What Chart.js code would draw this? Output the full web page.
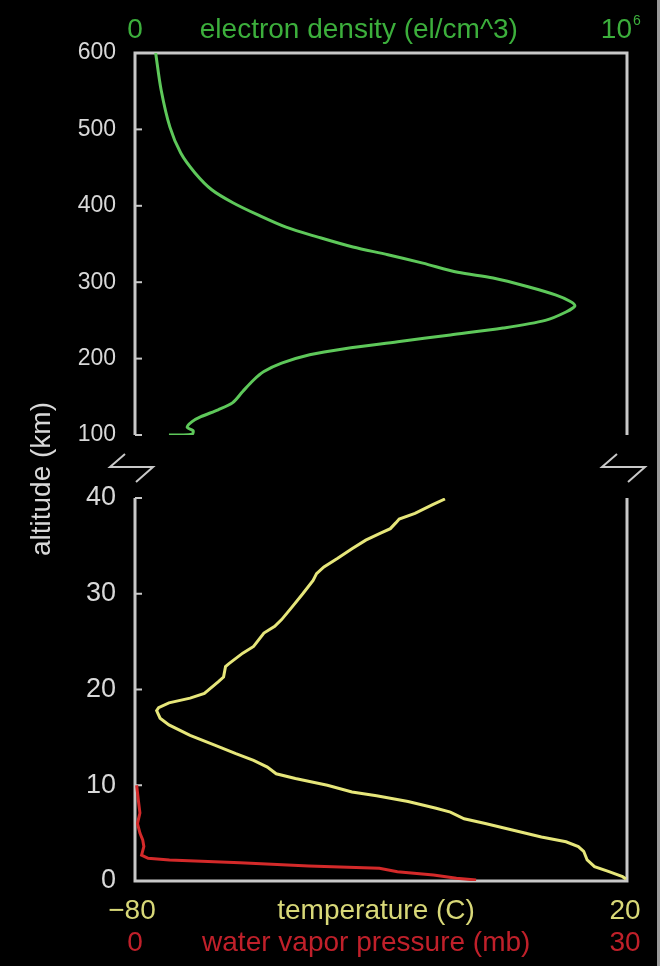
<!DOCTYPE html>
<html><head><meta charset="utf-8">
<script src="https://cdn.jsdelivr.net/npm/chart.js@4/dist/chart.umd.min.js"></script>
<style>
html,body{margin:0;padding:0;background:#fff;}
#wrap{position:relative;width:672px;height:966px;background:#fff;overflow:hidden;}
#bg{position:absolute;left:0;top:0;width:657px;height:966px;background:#000;}
#edge{position:absolute;left:657px;top:0;width:3px;height:966px;background:#9a9a9a;}
canvas{position:absolute;left:0;top:0;}
</style></head>
<body><div id="wrap"><div id="bg"></div><div id="edge"></div>
<canvas id="topc" width="672" height="966"></canvas>
<canvas id="botc" width="672" height="966"></canvas></div>
<script>
// ---- data ----
const densAlt = [600,552,503,469,443,421,404,388,372,359,346,336,325,313,305.5,294,283,275,269,261,250,240,231,222,213,205,194,183,172,157,142,133,124,117.5,110,105.6,101,100,100];
const densVal = [42000,53000,71000,93000,122000,156000,199000,250000,307000,372000,443000,514000,585000,656000,728000,799000,856000,884000,894000,876000,834000,748000,641000,534000,426000,355000,298000,262000,241000,219000,198000,169000,134000,116000,106000,118000,116000,94000,69000];
const tempAlt = [39.9,39.3,38.4,37.8,37.4,36.8,36.3,35.6,34.7,33.7,32.8,32.1,31.4,30.0,28.6,27.3,26.6,25.9,24.5,23.8,22.7,22.4,21.3,20.8,19.6,19.1,18.6,18.1,17.8,17.0,16.3,15.2,14.2,13.3,12.6,11.9,11.2,10.7,10.0,9.3,8.9,8.3,7.6,7.2,6.5,6.0,5.3,4.6,4.1,3.6,3.1,2.2,1.5,1.0,0.45,0.2];
const tempVal = [-17.0,-19.5,-23.1,-26.3,-27.0,-28.1,-30.2,-33.1,-35.9,-38.8,-41.6,-43.1,-43.8,-45.9,-48.1,-50.2,-51.6,-53.8,-55.9,-58.1,-60.9,-61.6,-62.0,-63.1,-65.9,-68.8,-73.1,-75.2,-75.6,-74.9,-73.1,-68.8,-63.8,-59.5,-55.9,-53.1,-51.3,-47.4,-40.9,-35.9,-30.9,-24.5,-18.8,-15.9,-13.1,-8.8,-3.1,2.6,7.6,10.1,11.2,11.9,13.4,16.2,19.1,19.8];
const vapAlt = [10.0,8.5,7.1,6.0,5.0,4.3,3.6,2.7,2.37,2.2,1.9,1.57,1.33,0.97,0.63,0.28,0.1];
const vapVal = [0.1,0.2,0.3,0.15,0.3,0.47,0.54,0.4,0.8,2.1,6.4,10.6,14.9,16.0,18.2,19.6,20.8];
const topTicks = [100,200,300,400,500,600];
const botTicks = [0,10,20,30,40];
const densRange = [0, 1000000];
const tempRange = [-80, 20];
const vapRange = [0, 30];

// ---- styles ----
const FRAME = '#c8c8c8', TICKTXT = '#d8d8d8';
const GREEN_T = '#3caf3c', GREEN_L = '#5ec85a';
const YEL_T = '#d8d878', YEL_L = '#e6e67a';
const RED_T = '#c0202a', RED_L = '#d42a2a';
const FONT = '"Liberation Sans", Arial, Helvetica, sans-serif';

function pts(xs, ys){ return xs.map((v,i)=>({x:v, y:ys[i]})); }

function drawBreak(ctx, x){
  ctx.beginPath();
  ctx.moveTo(x-10, 454); ctx.lineTo(x-25, 467); ctx.lineTo(x+18, 467); ctx.lineTo(x+1, 482);
  ctx.stroke();
}

const topPlugin = {
  id:'topDeco',
  beforeDatasetsDraw(chart){
    const {ctx, chartArea:a} = chart;
    const ys = chart.scales.y;
    ctx.save();
    ctx.strokeStyle = FRAME; ctx.lineWidth = 3; ctx.lineJoin='miter';
    ctx.beginPath();
    ctx.moveTo(a.left, a.bottom); ctx.lineTo(a.left, a.top); ctx.lineTo(a.right, a.top); ctx.lineTo(a.right, a.bottom);
    ctx.stroke();
    ctx.lineWidth = 2;
    topTicks.forEach(v=>{ if(v===600) return; const y = ys.getPixelForValue(v);
      ctx.beginPath(); ctx.moveTo(a.left, y); ctx.lineTo(a.left+7, y); ctx.stroke(); });
    drawBreak(ctx, a.left); drawBreak(ctx, a.right);
    ctx.restore();
  },
  afterDraw(chart){
    const {ctx} = chart;
    const xs = chart.scales.x;
    ctx.save();
    ctx.textBaseline = 'middle';
    ctx.fillStyle = GREEN_T;
    ctx.font = '28px ' + FONT;
    ctx.textAlign = 'center';
    ctx.fillText('0', xs.getPixelForValue(densRange[0]), 30);
    ctx.fillText('electron density (el/cm^3)', xs.getPixelForValue(455000), 30);
    ctx.textAlign = 'right';
    const xr = xs.getPixelForValue(densRange[1]);
    ctx.fillText('10', xr+5, 30);
    ctx.font = '14px ' + FONT; ctx.textAlign='left';
    ctx.fillText('6', xr+6, 21);
    // y axis title
    ctx.translate(42, 479); ctx.rotate(-Math.PI/2);
    ctx.fillStyle = TICKTXT; ctx.textAlign='center'; ctx.font = '28px ' + FONT;
    ctx.fillText('altitude (km)', 0, 0);
    ctx.restore();
  }
};

const botPlugin = {
  id:'botDeco',
  beforeDatasetsDraw(chart){
    const {ctx, chartArea:a} = chart;
    const ys = chart.scales.y;
    ctx.save();
    ctx.strokeStyle = FRAME; ctx.lineWidth = 3;
    ctx.beginPath();
    ctx.moveTo(a.left, a.top); ctx.lineTo(a.left, a.bottom); ctx.lineTo(a.right, a.bottom); ctx.lineTo(a.right, a.top);
    ctx.stroke();
    ctx.lineWidth = 2;
    botTicks.forEach(v=>{ if(v===0) return; const y = ys.getPixelForValue(v);
      ctx.beginPath(); ctx.moveTo(a.left, y); ctx.lineTo(a.left+7, y); ctx.stroke(); });
    ctx.restore();
  },
  afterDraw(chart){
    const {ctx} = chart;
    const xt = chart.scales.xT, xv = chart.scales.xV;
    ctx.save();
    ctx.textBaseline = 'middle'; ctx.textAlign = 'center';
    ctx.font = '28px ' + FONT;
    ctx.fillStyle = YEL_T;
    ctx.fillText('\u221280', xt.getPixelForValue(tempRange[0]) - 3, 911);
    ctx.fillText('temperature (C)', xt.getPixelForValue(-31), 911);
    ctx.fillText('20', xt.getPixelForValue(tempRange[1]) - 2, 911);
    ctx.fillStyle = RED_T;
    ctx.fillText('0', xv.getPixelForValue(vapRange[0]), 943);
    ctx.fillText('water vapor pressure (mb)', xv.getPixelForValue(14.1), 943);
    ctx.fillText('30', xv.getPixelForValue(vapRange[1]) - 2, 943);
    ctx.restore();
  }
};

function yAxis(min, max, ticks, size){
  return {
    position:'left', min, max,
    afterBuildTicks(s){ s.ticks = ticks.map(v=>({value:v})); },
    afterFit(s){ s.width = 135; },
    grid:{display:false, drawTicks:false}, border:{display:false},
    ticks:{color:TICKTXT, padding:19, font:{family:FONT, size}}
  };
}
const hidden = (min,max)=>({type:'linear', display:false, min, max});
const common = {responsive:false, animation:false, devicePixelRatio:1,
  plugins:{legend:{display:false}, tooltip:{enabled:false}}, events:[]};

new Chart(document.getElementById('topc'), {
  type:'scatter',
  data:{datasets:[{data:pts(densVal, densAlt), showLine:true, pointRadius:0, borderColor:GREEN_L, borderWidth:3, tension:0.3}]},
  options:Object.assign({}, common, {
    layout:{padding:{left:0, top:53, right:45, bottom:966-435}},
    scales:{ x:hidden(densRange[0], densRange[1]), y:yAxis(100, 600, topTicks, 23) }
  }),
  plugins:[topPlugin]
});

new Chart(document.getElementById('botc'), {
  type:'scatter',
  data:{datasets:[
    {data:pts(vapVal, vapAlt), xAxisID:'xV', showLine:true, pointRadius:0, borderColor:RED_L, borderWidth:3, tension:0},
    {data:pts(tempVal, tempAlt), xAxisID:'xT', showLine:true, pointRadius:0, borderColor:YEL_L, borderWidth:3, tension:0}
  ]},
  options:Object.assign({}, common, {
    layout:{padding:{left:0, top:498, right:45, bottom:966-881}},
    scales:{ xT:hidden(tempRange[0], tempRange[1]), xV:hidden(vapRange[0], vapRange[1]), y:yAxis(0, 40, botTicks, 27) }
  }),
  plugins:[botPlugin]
});
</script>
</body></html>
